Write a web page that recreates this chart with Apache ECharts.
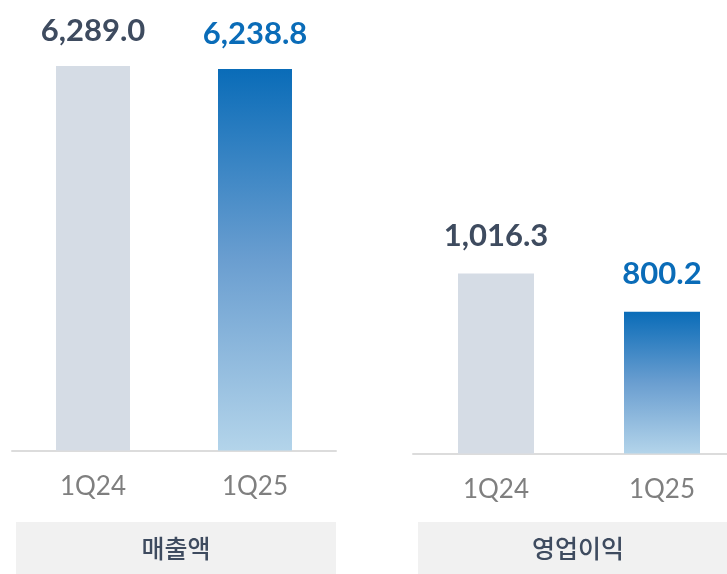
<!DOCTYPE html>
<html><head><meta charset="utf-8">
<script src="https://cdn.jsdelivr.net/npm/echarts@6/dist/echarts.min.js"></script>
<style>html,body{margin:0;padding:0;background:#fff}#c{width:727px;height:574px}</style>
</head><body><div id="c"></div>
<script>
const categories = ['1Q24', '1Q25'];
const salesValues = [6289.0, 6238.8];
const profitValues = [1016.3, 800.2];
const panelTitles = ['매출액', '영업이익'];

const grayBar = '#d5dce5';
const blueGrad = new echarts.graphic.LinearGradient(0, 0, 0, 1, [
  { offset: 0, color: '#0a6cb8' },
  { offset: 0.5, color: '#6a9ed0' },
  { offset: 1, color: '#b3d4ea' }
]);
const fmt = v => v.toLocaleString('en-US', { minimumFractionDigits: 1, maximumFractionDigits: 1 });

function makeData(vals) {
  return vals.map((v, i) => ({
    value: v,
    itemStyle: { color: i === 0 ? grayBar : blueGrad },
    label: { color: i === 0 ? '#3e4b5f' : '#0a6cb8' }
  }));
}

const axisCommon = {
  type: 'category',
  data: categories,
  axisLine: { lineStyle: { color: '#dcdcdc', width: 2 } },
  axisTick: { show: false },
  axisLabel: { fontFamily: 'Lato', fontWeight: 400, fontSize: 26, color: '#7f7f7f', margin: 23 }
};
const yCommon = { type: 'value', min: 0, max: v => v.max, show: false, splitLine: { show: false } };
const labelCommon = {
  show: true, position: 'top', distance: 20,
  fontFamily: 'Lato', fontWeight: 'bold', fontSize: 31,
  formatter: p => fmt(p.value)
};

const chart = echarts.init(document.getElementById('c'));
chart.setOption({
  animation: false,
  grid: [
    { left: 12, width: 324, top: 66, bottom: 123.5, outerBoundsMode: 'none' },
    { left: 413, width: 332, top: 273.5, bottom: 120.5, outerBoundsMode: 'none' }
  ],
  xAxis: [
    Object.assign({ gridIndex: 0 }, axisCommon),
    Object.assign({ gridIndex: 1 }, axisCommon)
  ],
  yAxis: [
    Object.assign({ gridIndex: 0 }, yCommon),
    Object.assign({ gridIndex: 1 }, yCommon)
  ],
  series: [
    { type: 'bar', xAxisIndex: 0, yAxisIndex: 0, barWidth: 74, data: makeData(salesValues), label: labelCommon },
    { type: 'bar', xAxisIndex: 1, yAxisIndex: 1, barWidth: 76, data: makeData(profitValues), label: Object.assign({}, labelCommon, { distance: 22 }) }
  ],
  graphic: [
    { type: 'rect', left: 16, top: 522, shape: { width: 320, height: 52 }, style: { fill: '#f1f1f1' } },
    { type: 'rect', left: 418, top: 522, shape: { width: 320, height: 52 }, style: { fill: '#f1f1f1' } },
    { type: 'text', x: 176, y: 548, style: { text: panelTitles[0], fill: '#3e4b5f', font: '500 25px "Noto Sans CJK KR"', align: 'center', verticalAlign: 'middle' } },
    { type: 'text', x: 578, y: 548, style: { text: panelTitles[1], fill: '#3e4b5f', font: '500 25px "Noto Sans CJK KR"', align: 'center', verticalAlign: 'middle' } }
  ]
});
</script></body></html>
